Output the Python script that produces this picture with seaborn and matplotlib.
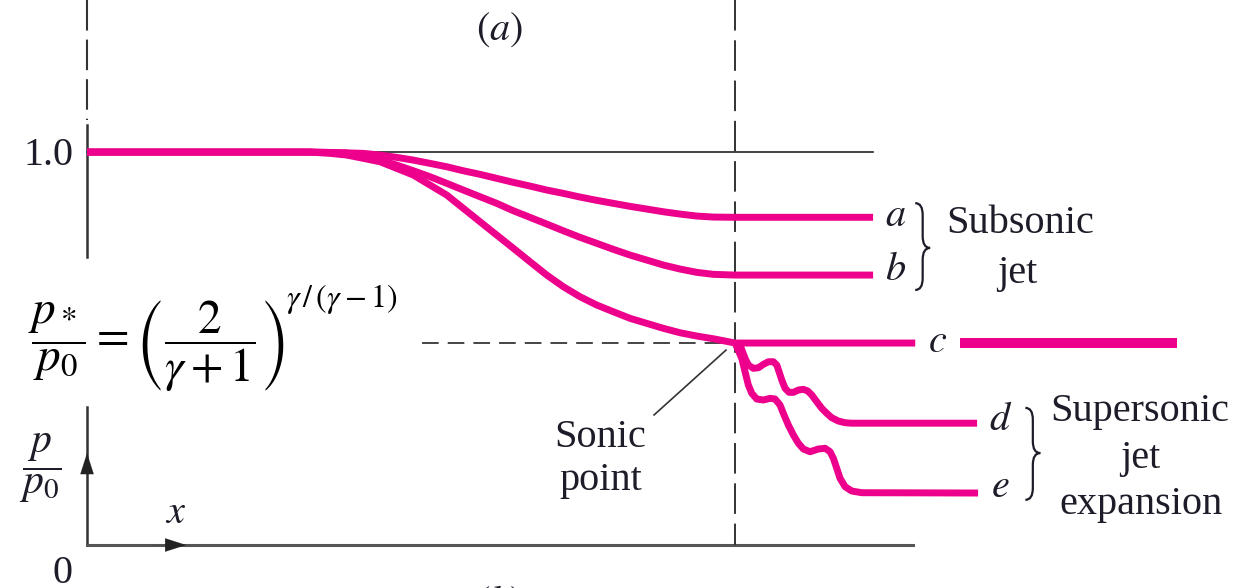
import matplotlib
matplotlib.use("Agg")
import matplotlib.pyplot as plt
from matplotlib.path import Path
from matplotlib.patches import PathPatch
import pandas as pd
import seaborn as sns

# Position along the duct (throat at x = 100) and pressure ratio p/p0
x_a = [0, 34.4, 37.5, 40.08, 42.64, 45.22, 47.79, 50.35, 52.93, 55.51, 58.07, 60.65, 63.22, 65.79,
       68.36, 70.94, 73.50, 76.08, 78.66, 81.22, 83.80, 86.37, 88.94, 91.51, 94.09, 96.65, 100.0, 121.3]
p_a = [1.0, 1.0, 0.999, 0.998, 0.9967, 0.9924, 0.9865, 0.9796, 0.9712, 0.9626, 0.9524, 0.9433, 0.9331, 0.9229,
       0.9135, 0.9033, 0.8949, 0.8855, 0.8771, 0.8695, 0.8618, 0.8550, 0.8481, 0.8422, 0.8372, 0.8346, 0.834, 0.834]

x_b = [0, 34.4, 37.5, 40.08, 42.64, 45.22, 47.79, 50.35, 52.93, 55.51, 58.07, 60.65, 63.22, 65.79,
       68.36, 70.94, 73.50, 76.08, 78.66, 81.22, 83.80, 86.37, 88.94, 91.51, 94.09, 96.65, 100.0, 121.3]
p_b = [1.0, 1.0, 0.999, 0.9975, 0.9880, 0.9796, 0.9669, 0.9524, 0.9372, 0.9204, 0.9033, 0.8863, 0.8695, 0.8506,
       0.8338, 0.8168, 0.7997, 0.7830, 0.7677, 0.7524, 0.7379, 0.7252, 0.7125, 0.7023, 0.6939, 0.6888, 0.687, 0.687]

x_c = [0, 34.4, 37.5, 40.08, 42.64, 45.22, 47.79, 50.35, 52.93, 55.51, 58.07, 60.65, 63.22, 65.79,
       68.36, 70.94, 73.50, 76.08, 78.66, 81.22, 83.80, 86.37, 88.94, 91.51, 94.09, 96.65, 100.0, 127.8]
p_c = [1.0, 1.0, 0.9967, 0.9924, 0.9840, 0.9753, 0.9585, 0.9415, 0.9160, 0.8906, 0.8567, 0.8226, 0.7888, 0.7550,
       0.7209, 0.6870, 0.6573, 0.6318, 0.6107, 0.5936, 0.5768, 0.5641, 0.5514, 0.5402, 0.5318, 0.5249, 0.514, 0.514]

x_d = [100.0, 100.77, 101.54, 102.05, 102.82, 103.60, 104.37, 105.14, 105.91, 106.44, 106.79, 107.21, 107.72,
       108.33, 109.00, 109.77, 110.54, 111.22, 111.84, 112.61, 113.38, 114.15, 114.92, 115.94, 116.98, 118.01, 137.35]
p_d = [0.514, 0.5089, 0.4751, 0.4580, 0.4496, 0.4511, 0.4598, 0.4664, 0.4664, 0.4580, 0.4410, 0.4198, 0.3987,
       0.3885, 0.3885, 0.3944, 0.3962, 0.3919, 0.3817, 0.3646, 0.3478, 0.3351, 0.3239, 0.3155, 0.3112, 0.3100, 0.3100]

x_e = [100.0, 101.03, 101.54, 102.05, 102.58, 103.35, 104.37, 105.40, 106.17, 106.94, 107.45, 108.22, 109.00,
       109.77, 110.54, 111.57, 112.85, 113.89, 114.66, 115.17, 115.69, 116.20, 116.98, 118.01, 119.55, 137.5]
p_e = [0.514, 0.4751, 0.4410, 0.4071, 0.3860, 0.3715, 0.3690, 0.3733, 0.3715, 0.3562, 0.3351, 0.3053, 0.2799,
       0.2588, 0.2443, 0.2374, 0.2443, 0.2461, 0.2374, 0.2206, 0.1952, 0.1697, 0.1483, 0.1374, 0.1331, 0.1323]

# Choked jet continuing beyond the exit
x_c_jet = [134.7, 168.2]
p_c_jet = [0.514, 0.514]

curve_names = ["a", "b", "c", "d", "e"]
sonic_ratio = 0.514
throat_x = 100.0

MAGENTA = "#EC008C"
INK = "#1d1d29"
AXIS = "#333333"

plt.rcParams["mathtext.fontset"] = "stix"
plt.rcParams["lines.scale_dashes"] = False
serif = ["Liberation Serif", "DejaVu Serif"]

fig = plt.figure(figsize=(12.36, 5.88), dpi=100)
ax = fig.add_axes([0, 0, 1, 1])

frames = []
for name, xs, ps in zip(curve_names, [x_a, x_b, x_c, x_d, x_e], [p_a, p_b, p_c, p_d, p_e]):
    frames.append(pd.DataFrame({"x": xs, "p": ps, "curve": name}))
df = pd.concat(frames, ignore_index=True)

# reference line p/p0 = 1 and axes
ax.plot([0, 121.3], [1.0, 1.0], color="#222222", lw=1.2, zorder=1)
ax.plot([0, 0], [1.069, 0.733], color=AXIS, lw=1.8, zorder=1)
ax.plot([0, 0], [1.387, 1.081], color=AXIS, lw=1.5, linestyle=(0, (22, 6.5)), zorder=1)
ax.plot([0, 0], [0.0, 0.351], color=AXIS, lw=1.8, zorder=1)
ax.plot([0, 127.5], [0.0, 0.0], color="#555555", lw=2.2, zorder=1)
arrow_style = "-|>,head_length=1.0,head_width=0.32"
ax.annotate("", xy=(15.3, 0.0), xytext=(10.0, 0.0),
            arrowprops=dict(arrowstyle=arrow_style, color="#222222",
                            lw=0.1, shrinkA=0, shrinkB=0, mutation_scale=15))
ax.annotate("", xy=(0.0, 0.234), xytext=(0.0, 0.16),
            arrowprops=dict(arrowstyle=arrow_style, color="#222222",
                            lw=0.1, shrinkA=0, shrinkB=0, mutation_scale=15))

# throat line and sonic pressure level
ax.plot([throat_x, throat_x], [1.387, 0.0], color=AXIS, lw=1.4, linestyle=(0, (22, 7)), zorder=1)
ax.plot([51.7, throat_x], [sonic_ratio, sonic_ratio], color="#444444", lw=1.4,
        linestyle=(0, (12, 6.5)), zorder=1)

sns.lineplot(data=df, x="x", y="p", hue="curve", palette={n: MAGENTA for n in curve_names},
             sort=False, estimator=None, legend=False, linewidth=5, ax=ax, zorder=3)
sns.lineplot(x=x_c_jet, y=p_c_jet, color=MAGENTA, linewidth=7.2, ax=ax, zorder=3)
for ln in ax.get_lines()[-6:]:
    ln.set_solid_capstyle("butt")
    ln.set_solid_joinstyle("round")
ax.set_xlim(-13.43, 177.3)
ax.set_ylim(-0.1094, 1.387)
ax.axis("off")


def brace(x0, x1, ytop, ybot, ymid, r=0.03):
    xm = x0 + 0.5 * (x1 - x0)
    verts = [(x0, ytop), (xm, ytop), (xm, ytop - r),
             (xm, ymid + r), (xm, ymid), (x1, ymid),
             (xm, ymid), (xm, ymid - r),
             (xm, ybot + r), (xm, ybot), (x0, ybot)]
    codes = [Path.MOVETO, Path.CURVE3, Path.CURVE3,
             Path.LINETO, Path.CURVE3, Path.CURVE3,
             Path.CURVE3, Path.CURVE3,
             Path.LINETO, Path.CURVE3, Path.CURVE3]
    ax.add_patch(PathPatch(Path(verts, codes), fill=False, edgecolor=INK, lw=1.6))


brace(127.8, 130.1, 0.870, 0.649, 0.756)
brace(144.8, 147.1, 0.349, 0.115, 0.234)

# leader to the sonic point
ax.plot([87.5, 98.6], [0.331, 0.496], color=AXIS, lw=1.2)

txt = dict(color=INK, fontsize=29, family=serif, ha="center", va="baseline")
ax.text(63.7, 1.285, r"$(a)$", **txt)
ax.text(63.7, -0.176, r"$(b)$", **txt)
ax.text(-2.16, 0.967, "1.0", **{**txt, "ha": "right"})
ax.text(13.7, 0.056, r"$x$", **txt)
ax.text(-3.86, -0.097, "0", **txt)
ax.text(-7.25, 0.196, r"$\dfrac{p}{p_0}$", color=INK, fontsize=30, ha="center", va="center")

ax.text(79.2, 0.249, "Sonic", **txt)
ax.text(79.2, 0.140, "point", **txt)

for name, xl, yl in [("a", 124.7, 0.812), ("b", 124.7, 0.674), ("c", 131.2, 0.491),
                     ("d", 141.0, 0.293), ("e", 141.0, 0.122)]:
    ax.text(xl, yl, "$" + name + "$", **txt)

ax.text(144.0, 0.794, "Subsonic", **txt)
ax.text(143.5, 0.667, "jet", **txt)
ax.text(162.5, 0.316, "Supersonic", **txt)
ax.text(162.5, 0.196, "jet", **txt)
ax.text(162.7, 0.079, "expansion", **txt)

# critical pressure ratio: base and exponent set separately
base = ax.text(-9.1, 0.509, r"$\dfrac{p_*}{p_0}=\left(\dfrac{2}{\gamma+1}\right)$",
               color="black", fontsize=34, ha="left", va="center")
fig.canvas.draw()
bb = base.get_window_extent()
ex_x, ex_y = ax.transData.inverted().transform((bb.x1 + 2, bb.y1 + 16))
ax.text(ex_x, ex_y, r"$\gamma\,/\,(\gamma-1)$", color="black", fontsize=23, ha="left", va="top")

fig.savefig("out.png", dpi=100)
